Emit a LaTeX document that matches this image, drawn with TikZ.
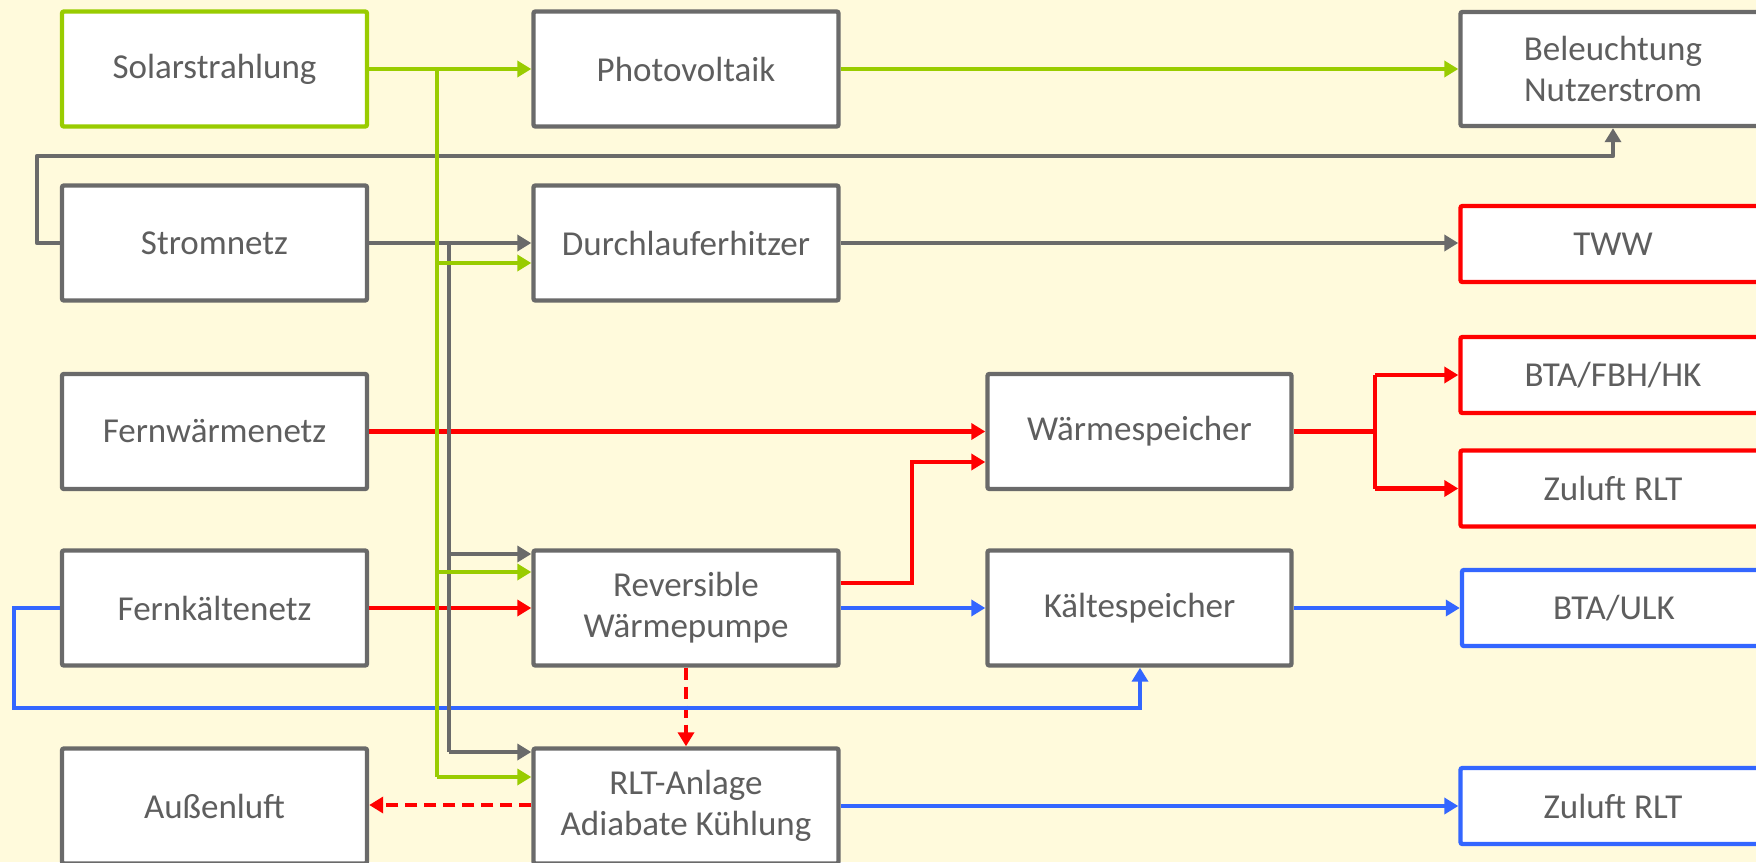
\documentclass[tikz,border=0pt]{standalone}
\usepackage{fontspec}
\setmainfont{Carlito}
\usetikzlibrary{arrows.meta}
\definecolor{bgc}{HTML}{FFFADC}
\definecolor{lgray}{HTML}{6A6A6A}
\definecolor{tgray}{HTML}{5E5E5E}
\definecolor{lgreen}{HTML}{99CC00}
\definecolor{lred}{HTML}{FF0000}
\definecolor{lblue}{HTML}{3366FF}
\tikzset{
  box/.style={draw=lgray, line width=2.2pt, fill=white, rounded corners=1pt,
    text=tgray, font=\fontsize{17.5}{20.5}\selectfont, align=center, inner sep=0pt,
    minimum width=152.5pt, minimum height=57.5pt},
  wbox/.style={box, minimum width=152pt},
  sbox/.style={box, minimum height=38pt},
  con/.style={line width=2.3pt, -{Triangle[length=7pt,width=8pt]}},
  plain/.style={line width=2.3pt},
  dsh/.style={con, dash pattern=on 6pt off 3.5pt},
}
\begin{document}
\begin{tikzpicture}[x=0.5pt,y=-0.5pt]
\fill[bgc] (0,0) rectangle (1756,862);
\useasboundingbox (0,0) rectangle (1756,862);
\clip (0,0) rectangle (1756,862);
% nodes
\node[box, draw=lgreen] (sol) at (214.5,69) {Solarstrahlung};
\node[box] (pv) at (686,69) {Photovoltaik};
\node[box, minimum height=57pt] (bel) at (1613,69) {Beleuchtung\\Nutzerstrom};
\node[box] (strom) at (214.5,243) {Stromnetz};
\node[box] (dlh) at (686,243) {Durchlauferhitzer};
\node[sbox, draw=lred] (tww) at (1613,244) {TWW};
\node[box] (fw) at (214.5,431.5) {Fernwärmenetz};
\node[wbox] (ws) at (1139.5,431.5) {Wärmespeicher};
\node[sbox, draw=lred] (bta) at (1613,375) {BTA/FBH/HK};
\node[sbox, draw=lred] (zul1) at (1613,488.5) {Zuluft RLT};
\node[box] (fk) at (214.5,608) {Fernkältenetz};
\node[box] (wp) at (686,608) {Reversible\\Wärmepumpe};
\node[wbox] (ks) at (1139.5,608) {Kältespeicher};
\node[sbox, draw=lblue, minimum width=152pt] (btau) at (1614,608) {BTA/ULK};
\node[box] (al) at (214.5,806) {Außenluft};
\node[box] (rlt) at (686,806) {RLT-Anlage\\Adiabate Kühlung};
\node[sbox, draw=lblue] (zul2) at (1613,806) {Zuluft RLT};
% helper coordinates
\coordinate (kB) at (1375,431.5);
\coordinate (kB1) at (1375,375);
\coordinate (kB2) at (1375,488.5);
\coordinate (r1) at (912,583);
\coordinate (r2) at (912,462);
\coordinate (b1) at (14,608);
\coordinate (b2) at (14,708);
\coordinate (b3) at (1140,708);
\coordinate (s1) at (37,243);
\coordinate (s2) at (37,156);
\coordinate (s3) at (1613,156);
\coordinate (gy0) at (449,243);
\coordinate (gy1) at (449,554);
\coordinate (gy2) at (449,752);
\coordinate (gr0) at (437,69);
\coordinate (gr1) at (437,263);
\coordinate (gr2) at (437,572);
\coordinate (gr3) at (437,777);
% red connectors
\draw[con, lred] (fw.east) -- (ws.west);
\draw[con, lred] (fk.east) -- (wp.west);
\draw[con, lred] (wp.east |- r1) -- (r1) -- (r2) -- (ws.west |- r2);
\draw[plain, lred] (ws.east) -- (kB);
\draw[plain, lred] (kB1) -- (kB2);
\draw[con, lred] (kB1) -- (bta.west);
\draw[con, lred] (kB2) -- (zul1.west);
\draw[dsh, lred] (wp.south) -- (rlt.north);
\draw[dsh, lred] (rlt.west |- 0,805) -- (al.east |- 0,805);
% blue connectors
\draw[con, lblue] (fk.west) -- (b1) -- (b2) -- (b3) -- (ks.south -| b3);
\draw[con, lblue] (wp.east) -- (ks.west);
\draw[con, lblue] (ks.east) -- (btau.west);
\draw[con, lblue] (rlt.east) -- (zul2.west);
% gray connectors
\draw[con, lgray, line join=round] (strom.west) -- (s1) -- (s2) -- (s3) -- (bel.south);
\draw[con, lgray] (strom.east) -- (dlh.west);
\draw[con, lgray] (dlh.east) -- (dlh.east -| tww.west);
\draw[plain, lgray] (gy0) -- (gy2);
\draw[con, lgray] (gy1) -- (wp.west |- gy1);
\draw[con, lgray] (gy2) -- (rlt.west |- gy2);
% green connectors
\draw[con, lgreen] (sol.east) -- (pv.west);
\draw[con, lgreen] (pv.east) -- (bel.west);
\draw[plain, lgreen] (gr0) -- (gr3);
\draw[con, lgreen] (gr1) -- (dlh.west |- gr1);
\draw[con, lgreen] (gr2) -- (wp.west |- gr2);
\draw[con, lgreen] (gr3) -- (rlt.west |- gr3);
\end{tikzpicture}
\end{document}
